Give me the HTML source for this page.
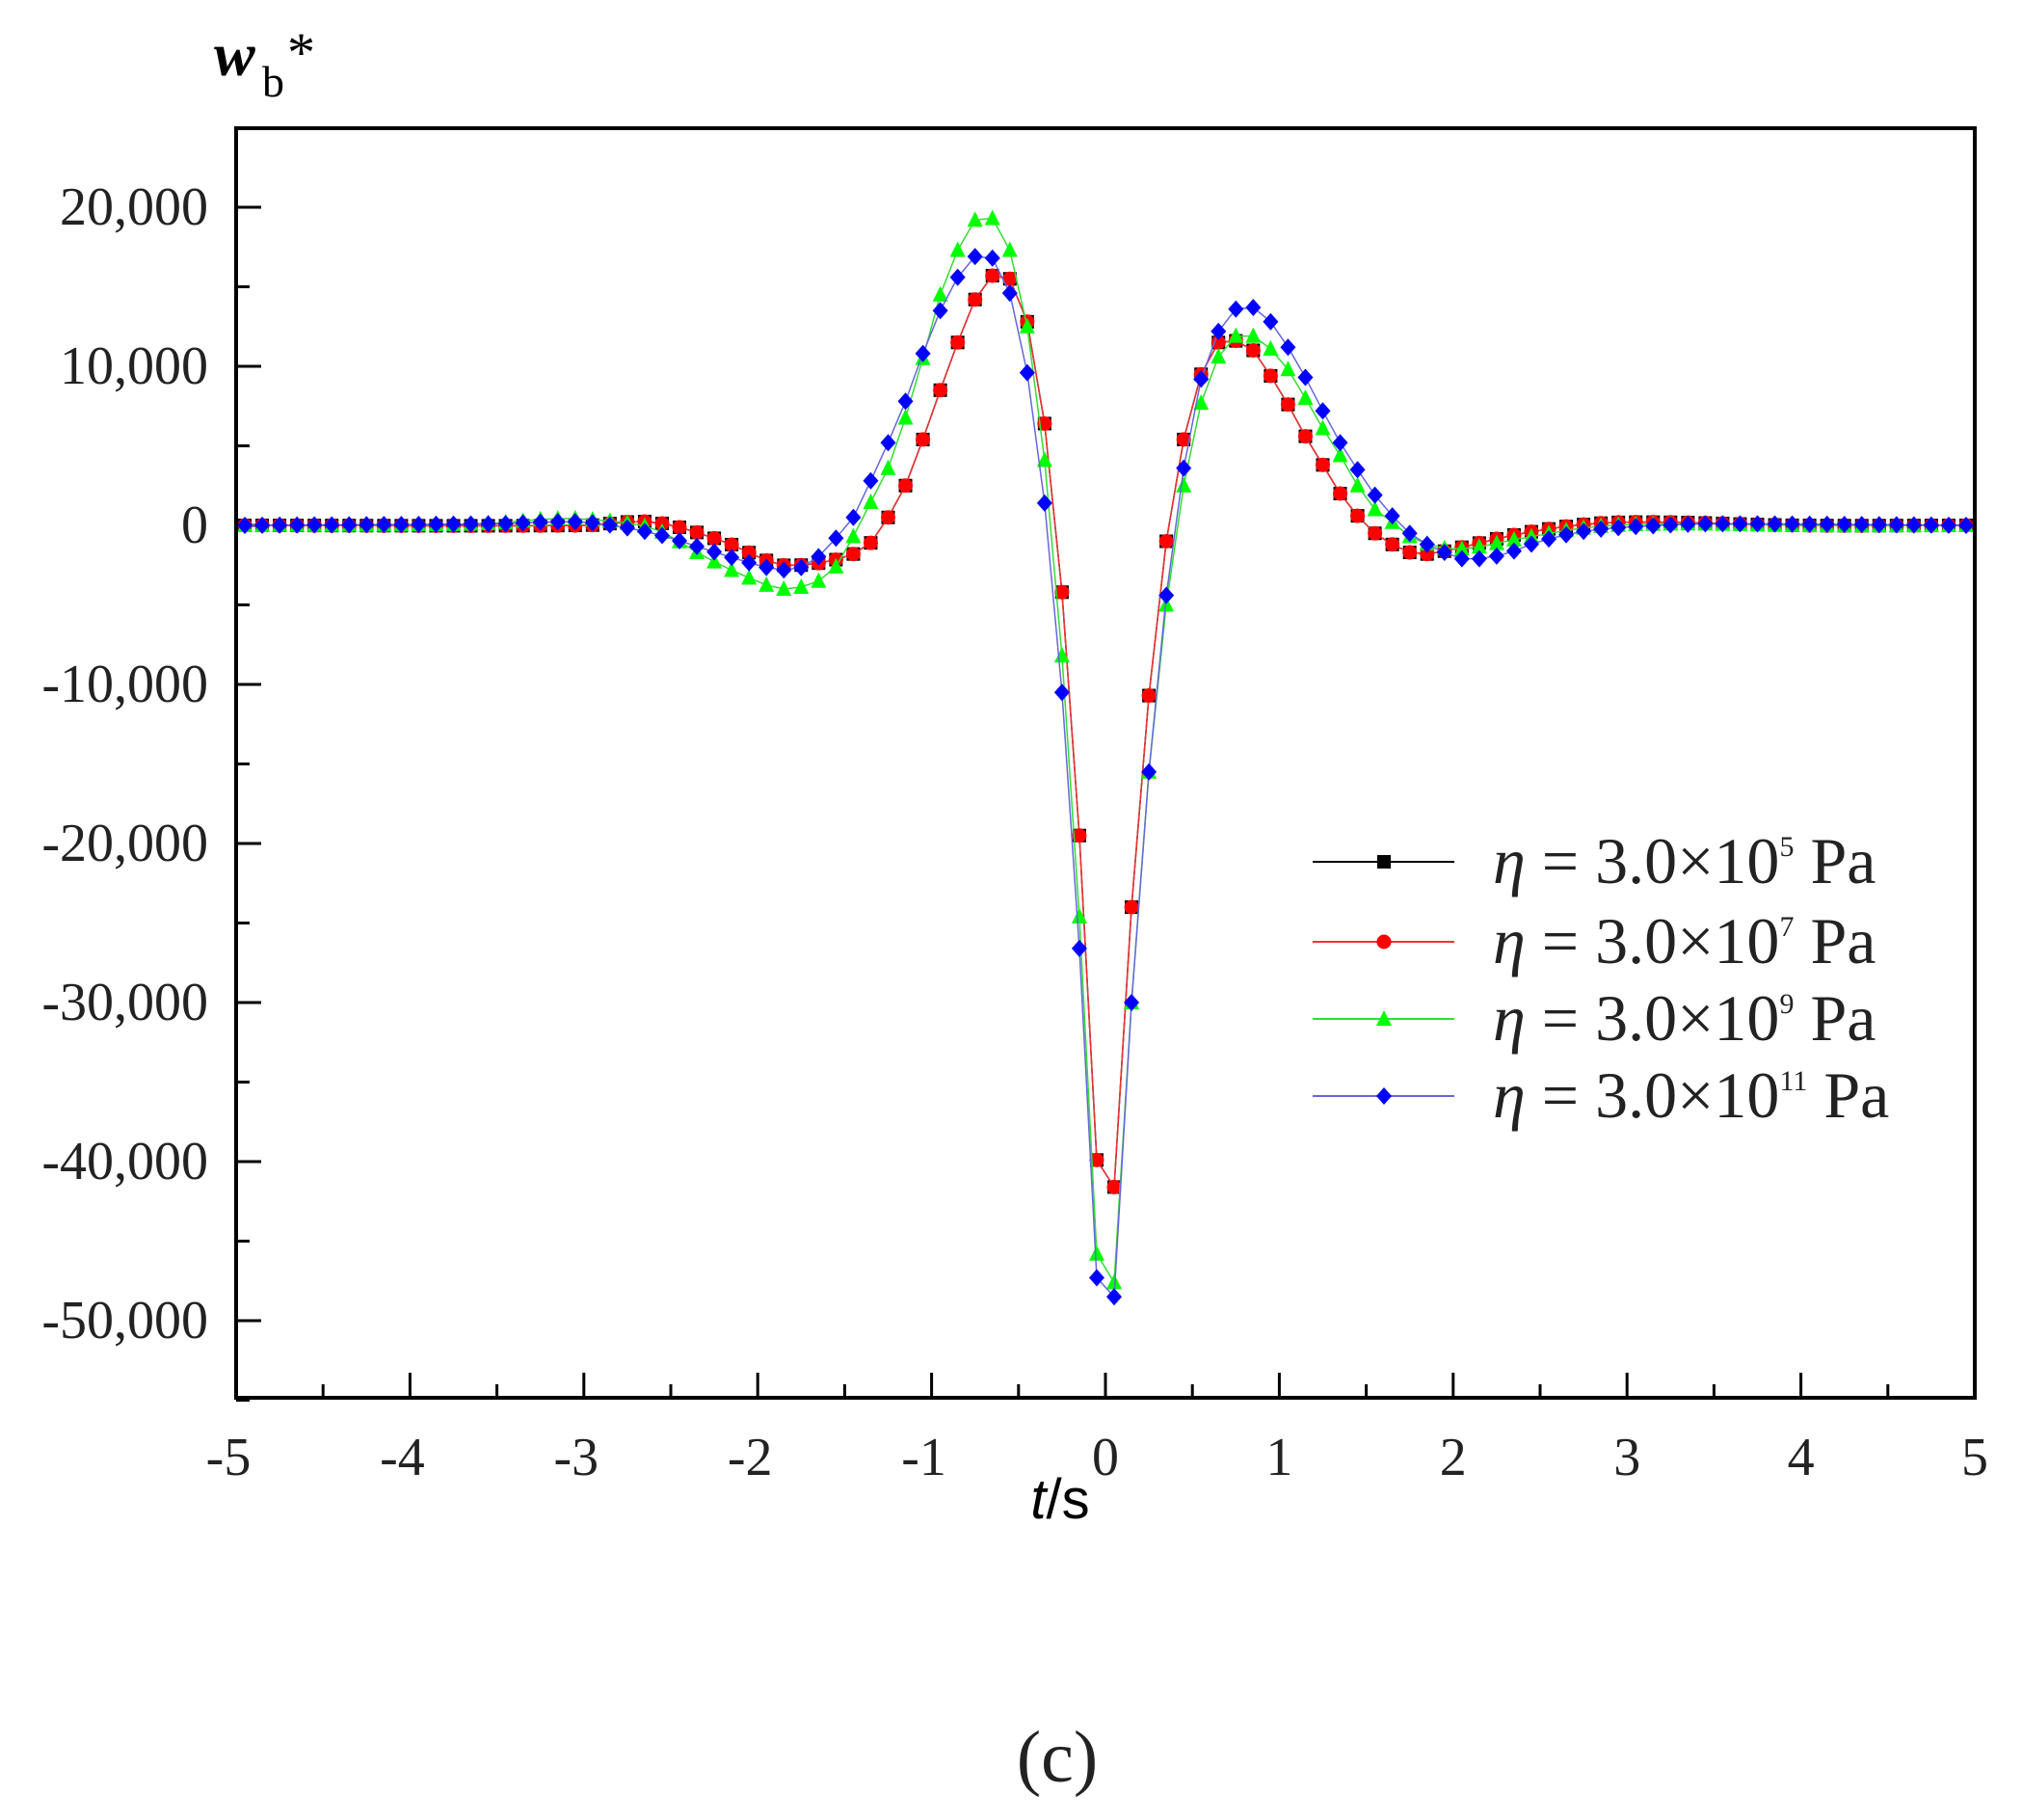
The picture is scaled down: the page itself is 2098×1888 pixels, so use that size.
<!DOCTYPE html>
<html><head><meta charset="utf-8"><style>body{margin:0;background:#fff}svg{display:block}</style></head>
<body>
<svg id="s" width="2098" height="1888" xmlns="http://www.w3.org/2000/svg" font-family="Liberation Serif, serif">
<rect x="0" y="0" width="2098" height="1888" fill="#fff"/>
<g id="ticks" stroke="#000" stroke-width="3"></g>
<g id="series"></g>
<rect x="245" y="133" width="1804" height="1317" fill="none" stroke="#000" stroke-width="4"/>
<g id="labels" font-size="56" fill="#222"></g>
<text x="222" y="78" font-size="64" font-weight="bold" font-style="italic">w</text>
<text x="272" y="100" font-size="46">b</text>
<text x="298" y="74" font-size="58">*</text>
<text x="1100" y="1575" font-size="58" font-family="Liberation Sans, sans-serif" text-anchor="middle"><tspan font-style="italic">t</tspan>/s</text>
<text x="1097" y="1848" font-size="76" text-anchor="middle" fill="#222">(c)</text>
<g id="legend"></g>
</svg>
<script>
const X=t=>245+(t+5)*180.4, Y=v=>545-v*16.5;
const ns="http://www.w3.org/2000/svg";
function el(n,a,p){const e=document.createElementNS(ns,n);for(const k in a)e.setAttribute(k,a[k]);p.appendChild(e);return e;}
const tk=document.getElementById('ticks'),lb=document.getElementById('labels');
for(let t=-5;t<=5.001;t+=0.5){const maj=Math.abs(t-Math.round(t))<1e-6;const L=maj?26:14;
 el('line',{x1:X(t),y1:1450,x2:X(t),y2:1450-L},tk);
 if(maj){const e=el('text',{x:X(t)+(t<0?-8:0),y:1530,'text-anchor':'middle'},lb);e.textContent=String(Math.round(t));}}
for(let v=-55000;v<=25000;v+=5000){const maj=v%10000===0;const L=maj?26:14;
 el('line',{x1:245,y1:Y(v/1000),x2:245+L,y2:Y(v/1000)},tk);
 if(maj&&v>=-50000&&v<=20000){const e=el('text',{x:216,y:Y(v/1000)+18,'text-anchor':'end'},lb);
 e.textContent=v===0?'0':(v<0?'-':'')+Math.abs(v).toLocaleString('en-US');}}
const red=[[-5,0],[-3,0],[-2.6,0.2],[-2.2,-1],[-1.9,-2.4],[-1.75,-2.5],[-1.5,-2],[-1.35,-1.1],[-1.25,0.5],[-1.15,2.5],[-1.05,5.4],[-0.95,8.5],[-0.85,11.5],[-0.75,14.2],[-0.65,15.7],[-0.55,15.5],[-0.45,12.8],[-0.35,6.4],[-0.25,-4.2],[-0.15,-19.5],[-0.05,-39.9],[0.05,-41.6],[0.15,-24],[0.25,-10.7],[0.35,-1],[0.45,5.4],[0.55,9.5],[0.65,11.5],[0.75,11.6],[0.85,11],[0.95,9.4],[1.05,7.6],[1.15,5.6],[1.25,3.8],[1.35,2],[1.45,0.6],[1.55,-0.5],[1.65,-1.2],[1.75,-1.7],[1.85,-1.8],[2.0,-1.5],[2.4,-0.5],[2.8,0.1],[3.2,0.2],[4,0],[5,0]];
const green=[[-5,0],[-3.6,0.1],[-3.2,0.4],[-3,0.4],[-2.6,-0.2],[-2.3,-2],[-2.05,-3.3],[-1.85,-4],[-1.65,-3.5],[-1.55,-2.6],[-1.45,-0.7],[-1.33,1.9],[-1.22,4.4],[-1.05,10.5],[-0.95,14.5],[-0.85,17.3],[-0.75,19.2],[-0.65,19.3],[-0.55,17.3],[-0.45,12.5],[-0.35,4.1],[-0.25,-8.2],[-0.15,-24.6],[-0.05,-45.8],[0.05,-47.6],[0.15,-30],[0.25,-15.5],[0.35,-5],[0.45,2.5],[0.55,7.7],[0.65,10.6],[0.75,11.9],[0.85,11.9],[0.95,11.1],[1.05,9.8],[1.15,8],[1.25,6.1],[1.35,4.4],[1.45,2.5],[1.55,1],[1.65,0.2],[1.75,-0.7],[2.0,-1.5],[2.4,-0.8],[2.8,-0.1],[3.3,0.1],[4,0],[5,0]];
const blue=[[-5,0],[-3.5,0.1],[-3,0.2],[-2.6,-0.5],[-2.3,-1.5],[-2,-2.5],[-1.85,-2.8],[-1.7,-2.4],[-1.55,-0.8],[-1.45,0.5],[-1.35,2.8],[-1.25,5.2],[-1.15,7.8],[-1.05,10.8],[-0.95,13.5],[-0.85,15.6],[-0.75,16.9],[-0.65,16.8],[-0.55,14.6],[-0.45,9.6],[-0.35,1.4],[-0.25,-10.5],[-0.15,-26.6],[-0.05,-47.3],[0.05,-48.5],[0.15,-30],[0.25,-15.5],[0.35,-4.4],[0.45,3.6],[0.55,9.2],[0.65,12.2],[0.75,13.6],[0.85,13.7],[0.95,12.8],[1.05,11.2],[1.15,9.3],[1.25,7.2],[1.35,5.2],[1.45,3.5],[1.55,1.9],[1.65,0.6],[1.75,-0.5],[1.85,-1.2],[1.95,-1.7],[2.05,-2.1],[2.15,-2.1],[2.3,-1.8],[2.5,-1.0],[2.8,-0.3],[3.2,0],[3.5,0.1],[5,0]];
function interp(k,t){for(let i=0;i<k.length-1;i++){if(t>=k[i][0]-1e-9&&t<=k[i+1][0]+1e-9){
 const p0=k[Math.max(0,i-1)],p1=k[i],p2=k[i+1],p3=k[Math.min(k.length-1,i+2)];
 const h=p2[0]-p1[0],u=(t-p1[0])/h;
 const m1=(p2[1]-p0[1])/(p2[0]-p0[0]||1)*h,m2=(p3[1]-p1[1])/(p3[0]-p1[0]||1)*h;
 const u2=u*u,u3=u2*u;
 return (2*u3-3*u2+1)*p1[1]+(u3-2*u2+u)*m1+(-2*u3+3*u2)*p2[1]+(u3-u2)*m2;}}return 0;}
const sg=document.getElementById('series');
function marker(type,x,y,c,g){
 if(type==='sq')el('rect',{x:x-7,y:y-7,width:14,height:14,fill:c},g);
 else if(type==='ci')el('circle',{cx:x,cy:y,r:7.5,fill:c},g);
 else if(type==='tr')el('polygon',{points:`${x},${y-9} ${x-8},${y+7} ${x+8},${y+7}`,fill:c},g);
 else el('polygon',{points:`${x},${y-9} ${x+8},${y} ${x},${y+9} ${x-8},${y}`,fill:c},g);}
const S=[[red,'#000','#000','sq'],[red,'#e33','#f00','ci'],[green,'#3d3','#0f0','tr'],[blue,'#66d','#00f','di']];
S.forEach(([k,lc,mc,mt])=>{const g=el('g',{},sg);let pts=[];
 for(let i=0;i<100;i++){const t=-4.95+0.1*i;pts.push([X(t),Y(interp(k,t))]);}
 el('polyline',{points:pts.map(p=>p.join(',')).join(' '),fill:'none',stroke:lc,'stroke-width':1.5},g);
 pts.forEach(p=>marker(mt,p[0],p[1],mc,g));});
const lg=document.getElementById('legend');
const exps=['5','7','9','11'],rows=[894,977,1057,1137];
S.forEach((s,i)=>{const y=rows[i];el('line',{x1:1362,y1:y,x2:1509,y2:y,stroke:s[1],'stroke-width':2},lg);
 marker(s[3],1436,y,s[2],lg);
 const t=el('text',{x:1549,y:y+22,'font-size':68,fill:'#222'},lg);
 t.innerHTML=`<tspan font-style="italic">η</tspan> = 3.0×10<tspan dy="-28" font-size="30">${exps[i]}</tspan><tspan dy="28">  Pa</tspan>`;});
</script>
</body></html>
